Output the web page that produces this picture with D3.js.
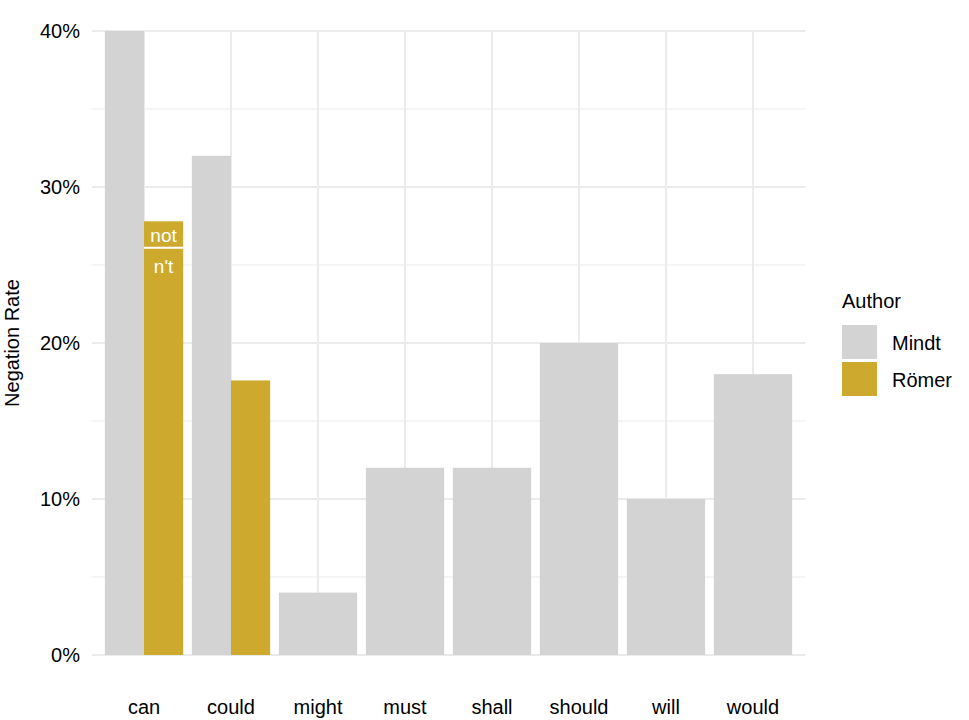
<!DOCTYPE html>
<html><head><meta charset="utf-8">
<script src="https://cdn.jsdelivr.net/npm/d3@7"></script>
<style>body{margin:0;background:#fff}text{font-family:"Liberation Sans",Arial,sans-serif}</style>
</head><body>
<script>
var categories = ["can","could","might","must","shall","should","will","would"];
var mindt = [40,32,4,12,12,20,10,18];
var romerCats = ["can","could"];
var romer = [27.8,17.6];
var canSplit = [{label:"n't", v0:0, v1:26.1},{label:"not", v0:26.1, v1:27.8}];
var yTicks = [0,10,20,30,40];

var W = 969, H = 720;
var svg = d3.select("body").append("svg").attr("width",W).attr("height",H);
var step = 87, x0 = 144 - 0.6*step;
var x = d3.scaleBand().domain(categories).range([x0 + 0.1*step, x0 + 0.1*step + step*categories.length]).paddingInner(0.1).paddingOuter(0.5);
// manual: center of cat i = 144 + i*87
var xc = function(c){ return 144 + categories.indexOf(c)*step; };
var bw = 0.9*step;
var y = d3.scaleLinear().domain([0,40]).range([655,31]);
var left = x0, right = 144 + 7*step + 0.6*step;

var g = svg.append("g");
// grid
[5,15,25,35].forEach(function(t){ g.append("line").attr("x1",left).attr("x2",right).attr("y1",y(t)).attr("y2",y(t)).attr("stroke","#ebebeb").attr("stroke-width",1); });
yTicks.forEach(function(t){ g.append("line").attr("x1",left).attr("x2",right).attr("y1",y(t)).attr("y2",y(t)).attr("stroke","#ebebeb").attr("stroke-width",2); });
categories.forEach(function(c){ g.append("line").attr("x1",xc(c)).attr("x2",xc(c)).attr("y1",y(0)+1).attr("y2",y(0)-Math.abs(y(40)-y(0))-1 - 0).attr("stroke","#ebebeb").attr("stroke-width",2); });

// bars
categories.forEach(function(c,i){
  var hasR = romerCats.indexOf(c) >= 0;
  var w = hasR ? bw/2 : bw;
  var xl = xc(c) - bw/2;
  g.append("rect").attr("x",xl).attr("width",w).attr("y",y(mindt[i])).attr("height",y(0)-y(mindt[i])).attr("fill","#d3d3d3");
});
romerCats.forEach(function(c,i){
  var xl = xc(c);
  if (c === "can") {
    canSplit.forEach(function(s){
      g.append("rect").attr("x",xl).attr("width",bw/2).attr("y",y(s.v1)).attr("height",y(s.v0)-y(s.v1)).attr("fill","#cdaa2d");
    });
    g.append("line").attr("x1",xl).attr("x2",xl+bw/2).attr("y1",y(26.1)).attr("y2",y(26.1)).attr("stroke","#fff").attr("stroke-width",2);
    g.append("text").attr("x",xl+bw/4).attr("y",(y(26.1)+y(27.8))/2+7).attr("text-anchor","middle").attr("fill","#fff").attr("font-size",19).text("not");
    g.append("text").attr("x",xl+bw/4).attr("y",y(26.1)+25).attr("text-anchor","middle").attr("fill","#fff").attr("font-size",19).text("n't");
  } else {
    g.append("rect").attr("x",xl).attr("width",bw/2).attr("y",y(romer[i])).attr("height",y(0)-y(romer[i])).attr("fill","#cdaa2d");
  }
});

// axes labels
yTicks.forEach(function(t){ svg.append("text").attr("x",80).attr("y",y(t)+7).attr("text-anchor","end").attr("font-size",20).attr("fill","#000").text(t+"%"); });
categories.forEach(function(c){ svg.append("text").attr("x",xc(c)).attr("y",714).attr("text-anchor","middle").attr("font-size",20).attr("fill","#000").text(c); });
svg.append("text").attr("transform","translate(19,343) rotate(-90)").attr("text-anchor","middle").attr("font-size",20).text("Negation Rate");

// legend
svg.append("text").attr("x",842).attr("y",308).attr("font-size",20).text("Author");
[["Mindt","#d3d3d3"],["Römer","#cdaa2d"]].forEach(function(d,i){
  svg.append("rect").attr("x",842).attr("y",325+i*37).attr("width",35).attr("height",34).attr("fill",d[1]);
  svg.append("text").attr("x",892).attr("y",350+i*37).attr("font-size",20).text(d[0]);
});
</script>
</body></html>
